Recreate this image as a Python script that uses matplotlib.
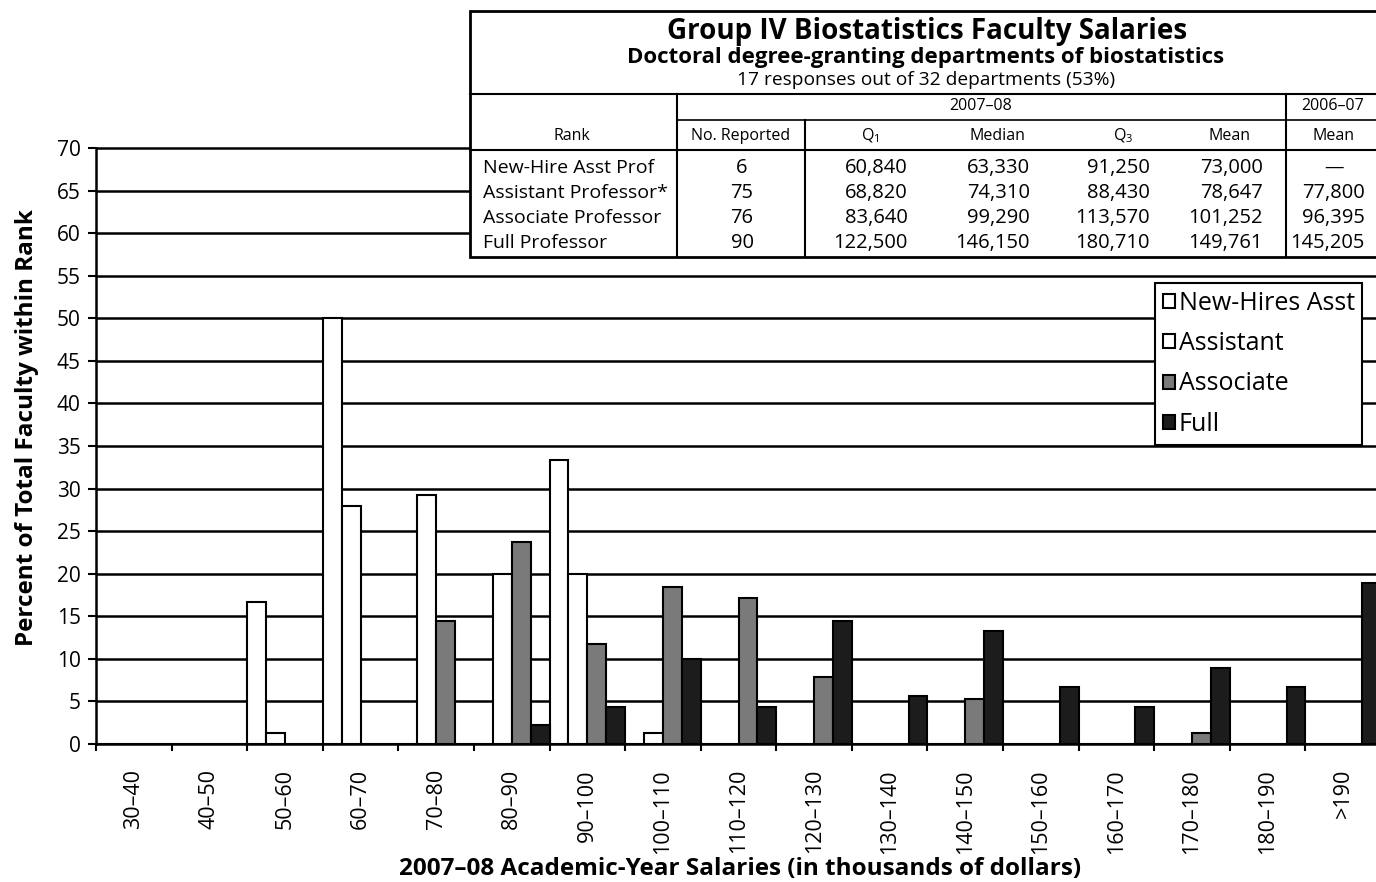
import matplotlib.pyplot as plt
import numpy as np
from matplotlib.patches import Patch, Rectangle
from matplotlib.lines import Line2D

plt.rcParams['font.family'] = ['Open Sans', 'DejaVu Sans']
plt.rcParams['mathtext.default'] = 'regular'

# salary bins (thousands of dollars)
categories = ['30–40', '40–50', '50–60', '60–70', '70–80', '80–90', '90–100',
              '100–110', '110–120', '120–130', '130–140', '140–150', '150–160',
              '160–170', '170–180', '180–190', '>190']

# percent of total faculty within rank, per bin
new_hires = [0, 0, 16.7, 50.0, 0, 0, 33.3, 0, 0, 0, 0, 0, 0, 0, 0, 0, 0]
assistant = [0, 0, 1.3, 28.0, 29.3, 20.0, 20.0, 1.3, 0, 0, 0, 0, 0, 0, 0, 0, 0]
associate = [0, 0, 0, 0, 14.5, 23.7, 11.8, 18.4, 17.1, 7.9, 0, 5.3, 0, 0, 1.3, 0, 0]
full = [0, 0, 0, 0, 0, 2.2, 4.4, 10.0, 4.4, 14.4, 5.6, 13.3, 6.7, 4.4, 8.9, 6.7, 18.9]

series_names = ['New-Hires Asst', 'Assistant', 'Associate', 'Full']
series_colors = ['white', 'white', '#7a7a7a', '#1c1c1c']

# summary table
table_title = 'Group IV Biostatistics Faculty Salaries'
table_subtitle = 'Doctoral degree-granting departments of biostatistics'
table_note = '17 responses out of 32 departments (53%)'
ranks = ['New-Hire Asst Prof', 'Assistant Professor*', 'Associate Professor', 'Full Professor']
n_reported = [6, 75, 76, 90]
q1 = [60840, 68820, 83640, 122500]
median = [63330, 74310, 99290, 146150]
q3 = [91250, 88430, 113570, 180710]
mean = [73000, 78647, 101252, 149761]
mean_prev = [None, 77800, 96395, 145205]

W, H = 1376, 882


def fx(x):
    return x / W


def fy(y):
    return 1 - y / H


fig = plt.figure(figsize=(W / 100, H / 100), dpi=100)

# axes: 0 at y=744px, 70 at y=148px
ppu = (744 - 148) / 70
ytop = 71
ax = fig.add_axes([fx(96), fy(744), (1381 - 96) / W, ytop * ppu / H])

x = np.arange(len(categories))
w = 0.25
for k, (vals, col) in enumerate(zip([new_hires, assistant, associate, full], series_colors)):
    ax.bar(x + k * w, vals, width=w, align='edge', color=col,
           edgecolor='black', linewidth=1.5, zorder=3)

ax.set_xlim(0, len(categories))
ax.set_ylim(0, ytop)
ax.set_yticks(range(0, 75, 5))
ax.yaxis.grid(True, color='black', linewidth=1.8)
ax.set_axisbelow(True)

ax.set_xticks(np.arange(len(categories) + 1))
ax.set_xticklabels([])
ax.set_xticks(x + 0.5, minor=True)
ax.set_xticklabels(categories, minor=True, rotation=90, fontsize=15.5)
ax.tick_params(axis='x', which='minor', length=0, pad=18)
ax.tick_params(axis='x', which='major', length=5, width=1.5)
ax.tick_params(axis='y', length=6, width=1.5, pad=5, labelsize=15)

for s in ['top', 'right']:
    ax.spines[s].set_visible(False)
for s in ['left', 'bottom']:
    ax.spines[s].set_linewidth(1.8)
ax.spines['left'].set_bounds(0, 70)

fig.text(fx(27), fy(428), 'Percent of Total Faculty within Rank', rotation=90,
         ha='center', va='center', fontsize=17.5, fontweight='bold')
fig.text(fx(740), fy(869), '2007–08 Academic-Year Salaries (in thousands of dollars)',
         ha='center', va='center', fontsize=17.5, fontweight='bold')

handles = [Patch(facecolor=c, edgecolor='black', linewidth=1.5) for c in series_colors]
leg = ax.legend(handles, series_names, loc='upper left',
                bbox_to_anchor=(fx(1155), fy(283)), bbox_transform=fig.transFigure,
                borderaxespad=0, fontsize=18, handlelength=0.5, handleheight=0.5,
                handletextpad=0.15, labelspacing=0.62, borderpad=0.3,
                fancybox=False, framealpha=1, edgecolor='black')
leg.get_frame().set_linewidth(1.5)
leg.set_zorder(10)

# ---- table on top of the chart ----
fig.add_artist(Rectangle((fx(470), fy(257)), (1400 - 470) / W, (257 - 11) / H,
                         transform=fig.transFigure, facecolor='white',
                         edgecolor='black', linewidth=2, zorder=5))


def hline(y, x0, x1, lw=1.5):
    fig.add_artist(Line2D([fx(x0), fx(x1)], [fy(y), fy(y)], color='black',
                          linewidth=lw, zorder=6))


def vline(xp, y0, y1, lw=1.5):
    fig.add_artist(Line2D([fx(xp), fx(xp)], [fy(y0), fy(y1)], color='black',
                          linewidth=lw, zorder=6))


hline(94, 470, 1400)
hline(120, 677, 1400, lw=1.2)
hline(150, 470, 1400)
vline(677, 94, 257)
vline(805, 120, 257)
vline(1286, 94, 257)


def ttext(xp, yp, s, ha='center', size=12, weight='normal'):
    fig.text(fx(xp), fy(yp), s, ha=ha, va='center', fontsize=size,
             fontweight=weight, zorder=7)


ttext(927, 31, table_title, size=20, weight='bold')
ttext(926, 57, table_subtitle, size=16, weight='bold')
ttext(926, 80, table_note, size=13.8)
ttext(981, 106, '2007–08', size=11.5)
ttext(1333, 106, '2006–07', size=11.5)

headers = ['Rank', 'No. Reported', 'Q$_1$', 'Median', 'Q$_3$', 'Mean', 'Mean']
header_x = [572, 741, 870, 997, 1123, 1229, 1334]
for hx, h in zip(header_x, headers):
    ttext(hx, 136, h, size=11.5)

row_y = [168, 193, 218, 243]
value_cols = [q1, median, q3, mean]
value_right = [908, 1030, 1150, 1263]
for i, ry in enumerate(row_y):
    ttext(483, ry, ranks[i], ha='left', size=14)
    ttext(742, ry, str(n_reported[i]), size=14.5)
    for col, xr in zip(value_cols, value_right):
        ttext(xr, ry, f'{col[i]:,}', ha='right', size=14.5)
    if mean_prev[i] is None:
        ttext(1334, ry, '—', size=14)
    else:
        ttext(1365, ry, f'{mean_prev[i]:,}', ha='right', size=14.5)

fig.savefig('out.png', dpi=100)
